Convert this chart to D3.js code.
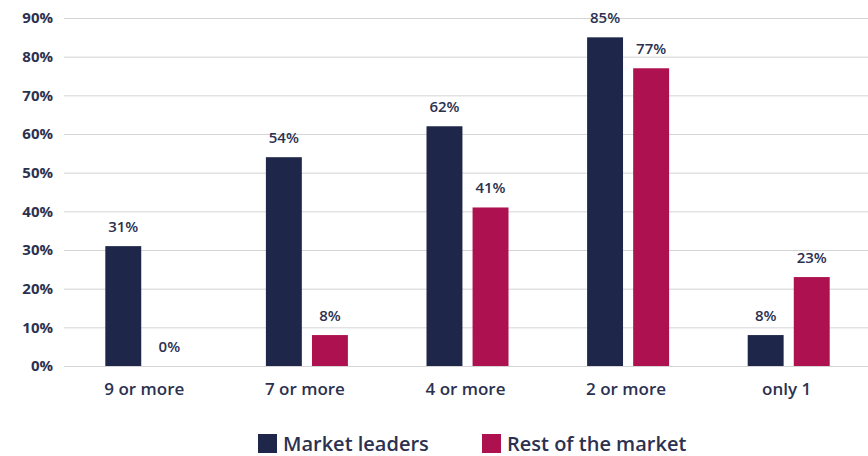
<!DOCTYPE html>
<html>
<head>
<meta charset="utf-8">
<script src="https://cdn.jsdelivr.net/npm/d3@7"></script>
<style>
  body { margin: 0; background: #fff; }
  text { font-family: "Open Sans", sans-serif; }
</style>
</head>
<body>
<div id="chart"></div>
<script>
// data
var categories = ["9 or more", "7 or more", "4 or more", "2 or more", "only 1"];
var seriesNames = ["Market leaders", "Rest of the market"];
var leaders = [31, 54, 62, 85, 8];
var rest = [0, 8, 41, 77, 23];
var ticks = [0, 10, 20, 30, 40, 50, 60, 70, 80, 90];

var colors = ["#1e2749", "#ad1150"];
var textColor = "#2c3150";

var width = 868, height = 456;
var margin = {top: 18, right: 1, bottom: 90, left: 64};

var svg = d3.select("#chart").append("svg")
    .attr("width", width)
    .attr("height", height);

var y = d3.scaleLinear()
    .domain([0, 90])
    .range([height - margin.bottom, margin.top]);

var x0 = d3.scaleBand()
    .domain(categories)
    .range([margin.left, width - margin.right])
    .padding(0);

var x1 = d3.scaleBand()
    .domain(seriesNames)
    .range([0, 82])
    .paddingInner(0.22);

var groupOffset = x0.bandwidth() / 2 - 39;

// gridlines + y labels
var yAxis = d3.axisLeft(y)
    .tickValues(ticks)
    .tickSize(-(width - margin.left))
    .tickPadding(11)
    .tickFormat(function(d) { return d + "%"; });

var gy = svg.append("g")
    .attr("transform", "translate(" + margin.left + ",0)")
    .call(yAxis);
gy.select(".domain").remove();
gy.selectAll(".tick line").attr("stroke", "#d4d4d4").attr("stroke-width", 1);
gy.selectAll(".tick text")
    .attr("fill", textColor)
    .style("font-size", "15px")
    .style("font-weight", "700");

// bars
var rows = categories.map(function(c, i) {
    return {cat: c, values: [
        {series: seriesNames[0], value: leaders[i]},
        {series: seriesNames[1], value: rest[i]}
    ]};
});

var group = svg.selectAll(".grp")
    .data(rows)
    .enter().append("g")
    .attr("class", "grp")
    .attr("transform", function(d) { return "translate(" + (x0(d.cat) + groupOffset) + ",0)"; });

group.selectAll("rect")
    .data(function(d) { return d.values; })
    .enter().append("rect")
    .attr("x", function(d) { return x1(d.series); })
    .attr("width", x1.bandwidth())
    .attr("y", function(d) { return y(d.value); })
    .attr("height", function(d) { return y(0) - y(d.value); })
    .attr("fill", function(d, i) { return colors[i]; });

group.selectAll(".val")
    .data(function(d) { return d.values; })
    .enter().append("text")
    .attr("class", "val")
    .attr("x", function(d) { return x1(d.series) + x1.bandwidth() / 2; })
    .attr("y", function(d) { return y(d.value) - 14; })
    .attr("text-anchor", "middle")
    .attr("fill", textColor)
    .style("font-size", "15px")
    .style("font-weight", "600")
    .text(function(d) { return d.value + "%"; });

// x labels
svg.selectAll(".cat")
    .data(categories)
    .enter().append("text")
    .attr("class", "cat")
    .attr("x", function(d) { return x0(d) + x0.bandwidth() / 2; })
    .attr("y", y(0) + 29)
    .attr("text-anchor", "middle")
    .attr("fill", textColor)
    .style("font-size", "17px")
    .style("font-weight", "600")
    .text(function(d) { return d; });

// legend
var legendX = [258, 482];
var legend = svg.selectAll(".leg")
    .data(seriesNames)
    .enter().append("g")
    .attr("class", "leg")
    .attr("transform", function(d, i) { return "translate(" + legendX[i] + ",434)"; });

legend.append("rect")
    .attr("width", 19)
    .attr("height", 19)
    .attr("fill", function(d, i) { return colors[i]; });

legend.append("text")
    .attr("x", 25)
    .attr("y", 17)
    .attr("fill", textColor)
    .style("font-size", "20px")
    .style("font-weight", "600")
    .text(function(d) { return d; });
</script>
</body>
</html>
